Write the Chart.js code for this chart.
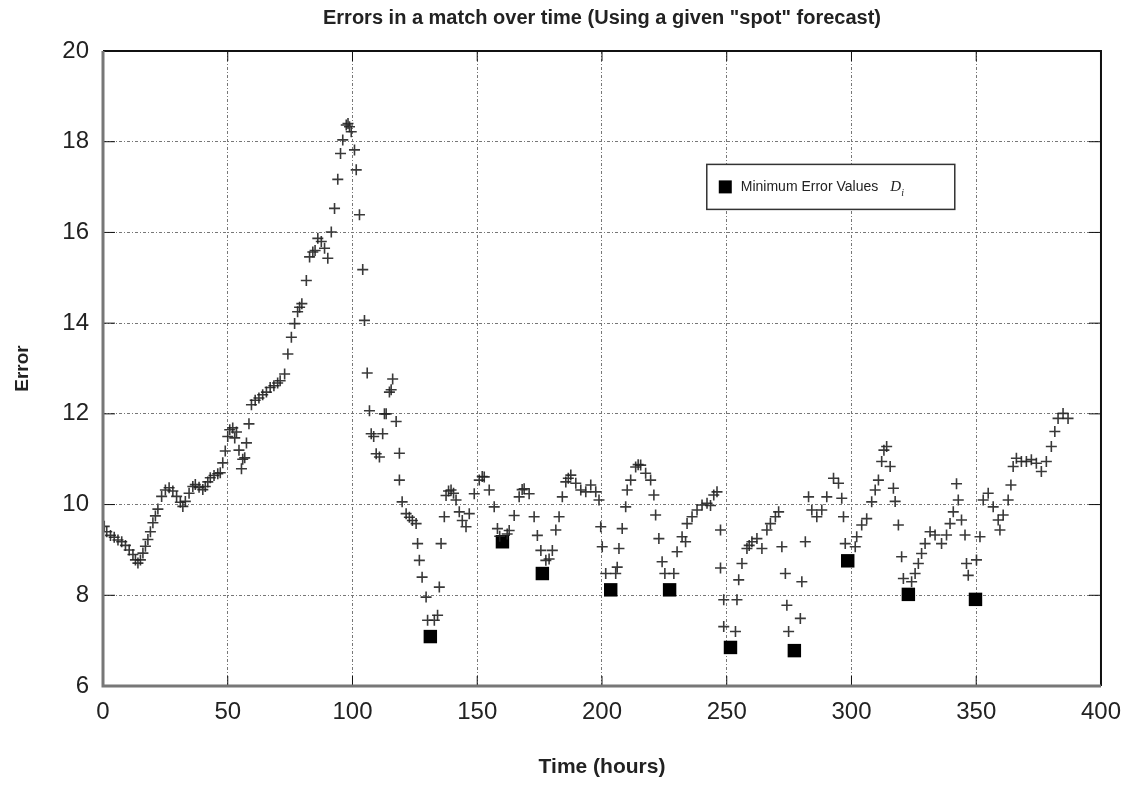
<!DOCTYPE html>
<html>
<head>
<meta charset="utf-8">
<script src="https://cdn.jsdelivr.net/npm/chart.js@4.4.0/dist/chart.umd.min.js"></script>
<style>
  html, body { margin: 0; padding: 0; background: #fff; }
  #wrap { width: 1133px; height: 786px; }
</style>
</head>
<body>
<div id="wrap"><canvas id="errChart" width="1133" height="786"></canvas></div>
<script>
// hourly error of the match
const timeHours = [
  0.5, 1.5, 3, 4.5, 6, 7.5, 9, 10.5, 12, 13, 14, 15, 16, 17, 18, 19, 20, 21, 22, 23.5,
  25, 26.5, 28, 29.5, 31, 32, 33, 34.5, 36, 37, 38.5, 40, 41, 42, 43, 44.5, 46, 47, 48, 49,
  50, 50.8, 52, 52.8, 53.5, 54.5, 55.5, 56, 56.8, 57.5, 58.5, 59.5, 61, 62.5, 64, 65.5, 67, 68.5, 70, 71,
  72.8, 74.1, 75.5, 76.8, 78, 78.8, 79.7, 81.5, 82.8, 84.1, 85, 86.1, 87.5, 88.8, 90.1, 91.5, 92.8, 94.1, 95.2, 96.1,
  97.5, 98.2, 98.8, 99.5, 100.8, 101.5, 102.8, 104.1, 104.8, 105.9, 106.8, 107.5, 108.5, 109.5, 110.8, 112.1, 112.8, 113.5, 114.8, 115.5,
  116.1, 117.5, 118.8, 118.8, 119.9, 121.5, 122.8, 124, 125.5, 126.1, 126.8, 127.9, 129.5, 130.1, 132.8, 134.1, 134.8, 135.5, 136.8, 137.5,
  138.5, 139.5, 140.5, 141.5, 142.8, 144, 145.5, 146.8, 148.8, 150.8, 152, 152.8, 154.8, 156.8, 158.1, 159, 162, 162.8, 164.8, 166.8,
  168, 168.8, 170.8, 172.8, 174.1, 175.5, 177.5, 178.8, 180.1, 181.5, 182.8, 184.1, 185.5, 186.5, 187.5, 189.5, 191.5, 193.5, 195.5, 197.5,
  198.8, 199.5, 200.1, 201.5, 205.5, 206.1, 206.8, 208.1, 209.5, 210.1, 211.5, 213.5, 214.5, 215.5, 217.5, 219.5, 220.8, 221.5, 222.8, 224.1,
  225.2, 228.8, 230.1, 232.1, 233.5, 234.1, 236.1, 238.1, 240.1, 242.1, 243.5, 244.8, 246.1, 247.5, 247.5, 248.8, 248.8, 253.5, 254.1, 254.8,
  256.1, 258.1, 259, 260.1, 262.1, 264.1, 266.1, 267.5, 269.5, 270.8, 272.1, 273.5, 274.1, 274.8, 279.5, 280.1, 281.5, 282.8, 284.1, 286.1,
  288.1, 290.1, 292.8, 294.8, 296.1, 296.8, 297.5, 301.5, 302.1, 304.1, 306.1, 308.1, 309.5, 310.8, 312.1, 313, 314.1, 315.5, 316.8, 317.5,
  318.8, 320.1, 320.8, 324.1, 325.5, 326.8, 328.1, 329.5, 331.5, 333.5, 336.1, 338.1, 339.5, 340.8, 342.1, 342.8, 344.1, 345.5, 346.1, 346.8,
  350.1, 351.5, 352.8, 354.8, 356.8, 358.8, 359.5, 360.8, 362.8, 363.9, 364.8, 366.1, 368.1, 370.1, 372.1, 374.1, 376.1, 378.1, 380.1, 381.5,
  382.8, 384.8, 386.8
];
const errorValues = [
  9.52, 9.4, 9.32, 9.28, 9.22, 9.18, 9.1, 9.0, 8.9, 8.78, 8.71, 8.78, 8.93, 9.08, 9.23, 9.4, 9.6, 9.75, 9.9, 10.18,
  10.32, 10.37, 10.3, 10.18, 10.05, 9.96, 10.07, 10.25, 10.4, 10.44, 10.38, 10.33, 10.4, 10.5, 10.59, 10.64, 10.68, 10.7, 10.92, 11.18,
  11.5, 11.65, 11.69, 11.47, 11.6, 11.2, 10.79, 11.0, 11.03, 11.36, 11.78, 12.2, 12.3, 12.35, 12.42, 12.48, 12.58, 12.62, 12.68, 12.73,
  12.88, 13.32, 13.69, 13.99, 14.25, 14.35, 14.43, 14.94, 15.46, 15.57, 15.6, 15.87, 15.8, 15.65, 15.43, 16.01, 16.53, 17.17, 17.74, 18.04,
  18.37, 18.4, 18.33, 18.22, 17.82, 17.38, 16.39, 15.18, 14.06, 12.9, 12.07, 11.56, 11.5, 11.12, 11.05, 11.56, 12.0, 12.0, 12.48, 12.53,
  12.77, 11.83, 11.13, 10.54, 10.06, 9.8, 9.72, 9.65, 9.58, 9.14, 8.77, 8.4, 7.96, 7.45, 7.45, 7.56, 8.18, 9.14, 9.73, 10.2,
  10.3, 10.32, 10.25, 10.1, 9.84, 9.65, 9.51, 9.8, 10.24, 10.54, 10.62, 10.61, 10.32, 9.95, 9.47, 9.3, 9.35, 9.43, 9.76, 10.17,
  10.33, 10.35, 10.24, 9.73, 9.32, 8.99, 8.77, 8.8, 8.99, 9.44, 9.73, 10.17, 10.5, 10.58, 10.65, 10.47, 10.32, 10.28, 10.43, 10.28,
  10.1, 9.51, 9.07, 8.48, 8.48, 8.62, 9.03, 9.47, 9.95, 10.32, 10.54, 10.83, 10.88, 10.87, 10.69, 10.54, 10.21, 9.77, 9.25, 8.74,
  8.48, 8.48, 8.96, 9.29, 9.18, 9.58, 9.73, 9.88, 9.99, 10.03, 9.98, 10.21, 10.28, 9.44, 8.6, 7.9, 7.31, 7.2, 7.9, 8.34,
  8.7, 9.03, 9.1, 9.18, 9.25, 9.03, 9.44, 9.58, 9.73, 9.84, 9.07, 8.48, 7.78, 7.2, 7.49, 8.3, 9.18, 10.17, 9.88, 9.73,
  9.88, 10.17, 10.58, 10.47, 10.14, 9.73, 9.14, 9.07, 9.29, 9.55, 9.69, 10.06, 10.32, 10.54, 10.95, 11.2, 11.28, 10.84, 10.36, 10.07,
  9.55, 8.85, 8.37, 8.3, 8.48, 8.7, 8.92, 9.14, 9.4, 9.33, 9.14, 9.33, 9.58, 9.84, 10.46, 10.1, 9.66, 9.33, 8.7, 8.44,
  8.78, 9.29, 10.1, 10.25, 9.95, 9.66, 9.44, 9.77, 10.1, 10.43, 10.84, 11.02, 10.95, 10.95, 10.99, 10.91, 10.73, 10.95, 11.28, 11.61,
  11.9, 12.01, 11.9
];

// minimum error values D_i
const minTimes = [131.2, 160.1, 176.1, 203.5, 227.1, 251.5, 277.1, 298.5, 322.8, 349.7];
const minErrors = [7.09, 9.18, 8.48, 8.12, 8.12, 6.85, 6.78, 8.76, 8.02, 7.91];

const xTicks = [0, 50, 100, 150, 200, 250, 300, 350, 400];
const yTicks = [6, 8, 10, 12, 14, 16, 18, 20];

const FONT = '"Liberation Sans", Arial, sans-serif';

// frame + inward tick marks like gnuplot
const framePlugin = {
  id: 'frame',
  afterDatasetsDraw(chart) {
    const { ctx, chartArea: a, scales } = chart;
    ctx.save();
    ctx.strokeStyle = '#111';
    ctx.lineWidth = 1;
    xTicks.forEach(v => {
      const x = scales.x.getPixelForValue(v);
      ctx.beginPath();
      ctx.moveTo(x, a.bottom); ctx.lineTo(x, a.bottom - 10);
      ctx.moveTo(x, a.top); ctx.lineTo(x, a.top + 10);
      ctx.stroke();
    });
    yTicks.forEach(v => {
      const y = scales.y.getPixelForValue(v);
      ctx.beginPath();
      ctx.moveTo(a.left, y); ctx.lineTo(a.left + 12, y);
      ctx.moveTo(a.right, y); ctx.lineTo(a.right - 12, y);
      ctx.stroke();
    });
    // top + right black
    ctx.strokeStyle = '#111';
    ctx.lineWidth = 2;
    ctx.beginPath();
    ctx.moveTo(a.left, a.top); ctx.lineTo(a.right, a.top); ctx.lineTo(a.right, a.bottom);
    ctx.stroke();
    // left + bottom grey and thicker
    ctx.strokeStyle = '#777';
    ctx.lineWidth = 3;
    ctx.beginPath();
    ctx.moveTo(a.left, a.top); ctx.lineTo(a.left, a.bottom); ctx.lineTo(a.right, a.bottom);
    ctx.stroke();
    ctx.restore();
  }
};

// legend box inside the plot
const legendPlugin = {
  id: 'boxLegend',
  afterDraw(chart) {
    const { ctx, scales } = chart;
    const x0 = scales.x.getPixelForValue(242);
    const y0 = scales.y.getPixelForValue(17.5);
    const w = 248, h = 45;
    ctx.save();
    ctx.fillStyle = '#fff';
    ctx.fillRect(x0, y0, w, h);
    ctx.strokeStyle = '#333';
    ctx.lineWidth = 1.5;
    ctx.strokeRect(x0, y0, w, h);
    ctx.fillStyle = '#000';
    ctx.fillRect(x0 + 12, y0 + 16, 13, 13);
    ctx.fillStyle = '#222';
    ctx.textBaseline = 'middle';
    ctx.font = '14px ' + FONT;
    const label = 'Minimum Error Values';
    ctx.fillText(label, x0 + 34, y0 + 23);
    const lw = ctx.measureText(label).width;
    ctx.font = 'italic 15px "Liberation Serif", serif';
    ctx.fillText('D', x0 + 34 + lw + 12, y0 + 23);
    ctx.font = 'italic 10px "Liberation Serif", serif';
    ctx.fillText('i', x0 + 34 + lw + 23, y0 + 29);
    ctx.restore();
  }
};

const errorPoints = timeHours.map((t, i) => ({ x: t, y: errorValues[i] }));
const minPoints = minTimes.map((t, i) => ({ x: t, y: minErrors[i] }));

const gridDash = [3, 2, 1, 2];

new Chart(document.getElementById('errChart'), {
  type: 'scatter',
  data: {
    datasets: [
      {
        label: 'Error',
        data: errorPoints,
        pointStyle: 'cross',
        pointRadius: 5.5,
        borderWidth: 1.6,
        borderColor: 'rgba(35,35,35,0.9)',
        backgroundColor: 'rgba(35,35,35,0.9)'
      },
      {
        label: 'Minimum Error Values',
        data: minPoints,
        pointStyle: 'rect',
        pointRadius: 9.5,
        borderWidth: 0,
        borderColor: '#000',
        backgroundColor: '#000'
      }
    ]
  },
  options: {
    responsive: false,
    animation: false,
    layout: { padding: { right: 30, left: 0, top: 0, bottom: 0 } },
    plugins: {
      legend: { display: false },
      tooltip: { enabled: false },
      title: {
        display: true,
        fullSize: false,
        text: 'Errors in a match over time (Using a given "spot" forecast)',
        color: '#222',
        font: { family: FONT, size: 20, weight: 'bold' },
        padding: { top: 6, bottom: 21 }
      }
    },
    scales: {
      x: {
        type: 'linear',
        min: 0, max: 400,
        afterBuildTicks: s => { s.ticks = xTicks.map(v => ({ value: v })); },
        afterFit: s => { s.height = 100; },
        border: { display: false, dash: gridDash },
        grid: { color: '#777', lineWidth: 1, drawTicks: false },
        ticks: { padding: 12, color: '#222', font: { family: FONT, size: 24 } },
        title: { display: true, text: 'Time (hours)', color: '#222',
                 font: { family: FONT, size: 21, weight: 'bold' }, padding: { top: 4, bottom: 6 } }
      },
      y: {
        min: 6, max: 20,
        afterBuildTicks: s => { s.ticks = yTicks.map(v => ({ value: v })); },
        afterFit: s => { s.width = 103; },
        border: { display: false, dash: gridDash },
        grid: { color: '#777', lineWidth: 1, drawTicks: false },
        ticks: { padding: 14, color: '#222', font: { family: FONT, size: 24 } },
        title: { display: true, text: 'Error', color: '#222',
                 font: { family: FONT, size: 19, weight: 'bold' }, padding: { top: 11, bottom: 0 } }
      }
    }
  },
  plugins: [framePlugin, legendPlugin]
});
</script>
</body>
</html>
